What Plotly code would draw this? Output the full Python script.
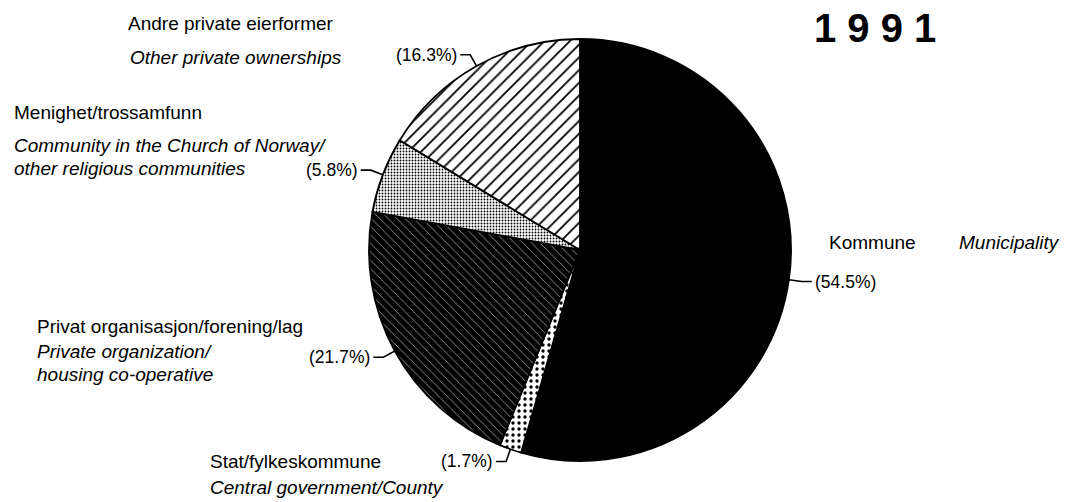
import math
import plotly.graph_objects as go

# ---- data ----
categories_no = ["Kommune", "Stat/fylkeskommune", "Privat organisasjon/forening/lag",
                 "Menighet/trossamfunn", "Andre private eierformer"]
categories_en = ["Municipality", "Central government/County",
                 "Private organization/<br>housing co-operative",
                 "Community in the Church of Norway/<br>other religious communities",
                 "Other private ownerships"]
shares = [54.5, 1.7, 21.7, 5.8, 16.3]
year_label = "1 9 9 1"

# ---- geometry / style ----
W, H = 1066, 502
CX, CY, R = 580, 250, 211
FONT = "Liberation Sans, Arial, sans-serif"

def px(x):
    return x / W

def py(y):
    return 1 - y / H

fills = ["black", "white", "black", "white", "white"]
fig = go.Figure(go.Pie(
    labels=categories_no, values=shares, sort=False, direction="clockwise", rotation=0,
    textinfo="none", hoverinfo="label+percent", showlegend=False,
    marker=dict(
        colors=fills,
        line=dict(color="black", width=1.8),
        pattern=dict(shape=["", ".", "\\", ".", "/"],
                     fgcolor=["black", "black", "white", "black", "black"],
                     bgcolor=fills,
                     size=[8, 6, 6, 3, 9],
                     solidity=[0.5, 0.25, 0.09, 0.3, 0.2],
                     fillmode="replace")),
    domain=dict(x=[px(CX - R), px(CX + R)], y=[py(CY + R), py(CY - R)]),
))

annotations = []
shapes = []

# percentage labels with leader lines, placed from the slice mid-angles
total = sum(shares)
cum = 0.0
EXT, HOR = 13, 10
for v in shares:
    mid = (cum + v / 2) / total * 2 * math.pi
    cum += v
    dx, dy = math.sin(mid), -math.cos(mid)
    x0, y0 = CX + R * dx, CY + R * dy
    x1, y1 = CX + (R + EXT) * dx, CY + (R + EXT) * dy
    side = 1 if dx >= 0 else -1
    x2 = x1 + side * HOR
    shapes.append(dict(type="path", xref="paper", yref="paper",
                       path=f"M {px(x0)},{py(y0)} L {px(x1)},{py(y1)} L {px(x2)},{py(y1)}",
                       line=dict(color="black", width=1.6)))
    annotations.append(dict(x=px(x2 + side * 1), y=py(y1), xref="paper", yref="paper",
                            text=f"({v:.1f}%)", showarrow=False,
                            xanchor="left" if side > 0 else "right", yanchor="middle",
                            font=dict(family=FONT, size=17.5, color="black")))

# category names (Norwegian regular, English italic)
name_pos = {
    0: [(827, 242, "no"), (957, 242, "en")],
    1: [(208, 461, "no"), (208, 487, "en")],
    2: [(35, 326, "no"), (35, 351, "en")],
    3: [(12, 112, "no"), (12, 146, "en")],
    4: [(126, 24, "no"), (128, 57, "en")],
}
LINE = 23
for i in range(len(categories_no)):
    for (x, y, lang) in name_pos[i]:
        if lang == "no":
            lines = [categories_no[i]]
        else:
            lines = categories_en[i].split("<br>")
        for k, t in enumerate(lines):
            txt = t if lang == "no" else f"<i>{t}</i>"
            annotations.append(dict(x=px(x), y=py(y + k * LINE), xref="paper", yref="paper",
                                    text=txt, showarrow=False, xanchor="left", yanchor="middle",
                                    font=dict(family=FONT, size=19, color="black")))

annotations.append(dict(x=px(875), y=py(28), xref="paper", yref="paper",
                        text=f"<b>{year_label}</b>", showarrow=False,
                        xanchor="center", yanchor="middle",
                        font=dict(family=FONT, size=40, color="black")))

fig.update_layout(width=W, height=H, margin=dict(l=0, r=0, t=0, b=0),
                  paper_bgcolor="white", plot_bgcolor="white",
                  annotations=annotations, shapes=shapes)
fig.write_html("out.html", config={"displayModeBar": False},
               post_script="document.body.style.margin='0';document.body.style.overflow='hidden';")
